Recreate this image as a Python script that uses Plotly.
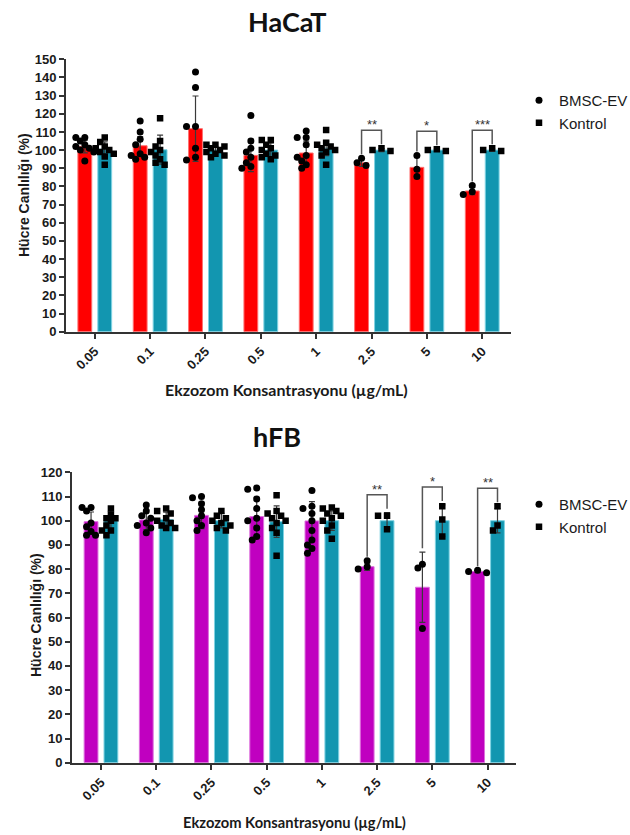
import numpy as np
import plotly.graph_objects as go

W, H = 630, 835

categories = ["0.05", "0.1", "0.25", "0.5", "1", "2.5", "5", "10"]
series_names = ["BMSC-EV", "Kontrol"]

# ---------------- HaCaT ----------------
hacat_ev_mean = [102.0, 102.4, 111.8, 97.1, 98.4, 93.0, 90.5, 77.5]
hacat_ev_sd = [3.5, 5.0, 18.0, 9.0, 6.5, 2.0, 6.0, 2.0]
hacat_ctrl_mean = [100.5, 100.2, 100.0, 100.0, 101.0, 100.0, 100.0, 100.0]
hacat_ctrl_sd = [4.0, 8.0, 2.0, 4.0, 4.0, 0.8, 0.5, 0.7]
hacat_ev_points = [
    [107, 107, 105, 103, 102, 101, 100, 99, 94],
    [116, 110, 106, 103, 98, 97, 96, 95],
    [143, 134.5, 113, 113, 101, 96, 94.5],
    [119, 105, 101, 99, 96, 93, 91, 90],
    [110.5, 107, 107, 103, 97, 96, 94, 92, 90],
    [95.5, 93, 91.5],
    [97, 89.5, 85.5],
    [80.5, 77, 75.5],
]
hacat_ctrl_points = [
    [107, 104.5, 102, 101, 100, 99, 98, 96.5, 92],
    [117.5, 105, 102, 100, 99, 97, 95, 93, 92],
    [103, 103, 102, 101, 100, 99, 98, 97, 96],
    [105.5, 105.5, 103, 101, 100, 98, 97, 96, 95],
    [111, 104, 103, 102, 101, 100, 99, 97, 92],
    [101, 100, 99.5],
    [100.5, 100, 99.5],
    [101, 100, 99.5],
]
hacat_sig = ["", "", "", "", "", "**", "*", "***"]

# ---------------- hFB ----------------
hfb_ev_mean = [99.6, 100.3, 102.2, 101.7, 99.9, 81.0, 72.5, 79.0]
hfb_ev_sd = [4.0, 4.0, 5.5, 8.0, 8.0, 1.5, 14.5, 0.5]
hfb_ctrl_mean = [100.0, 100.5, 100.0, 99.6, 100.0, 100.0, 100.0, 100.0]
hfb_ctrl_sd = [4.0, 3.0, 3.0, 6.5, 4.0, 3.3, 6.5, 5.0]
hfb_ev_points = [
    [105.5, 105.5, 104, 99, 97.5, 95.5, 94, 94],
    [106.5, 104, 102, 101, 99, 98, 97, 95],
    [110, 109.5, 107, 104.5, 102, 100, 98, 96],
    [113.5, 113, 109, 105, 101, 100, 97, 93.5, 92],
    [112.5, 106, 105, 103, 100, 96, 92, 90, 88.5, 86.5],
    [83.5, 81, 80],
    [82, 80.5, 55.5],
    [79.5, 79, 78.5],
]
hfb_ctrl_points = [
    [105, 102.5, 101, 101, 100, 98, 96, 96, 94],
    [105, 104, 103, 101, 100, 99, 98, 97, 97],
    [104, 102, 101, 100, 99, 98, 97, 96],
    [110.5, 104, 103, 102, 101, 100, 99, 97, 95, 85.5],
    [105.5, 105, 104, 103, 102, 101, 100, 98, 96, 92.5],
    [102, 102, 96.5],
    [106, 100.5, 93.5],
    [106, 98, 96],
]
hfb_sig = ["", "", "", "", "", "**", "*", "**"]

# ---------------- style ----------------
RED = "#FF0000"
MAGENTA = "#C000C0"
TEAL = "#1296B0"
AXIS = "#333333"
TXT = "#1a1a1a"
TICKFONT = dict(family="Arial, Liberation Sans, sans-serif", size=13, color=TXT, weight="bold")
BAR_W = 0.25
BAR_C = 0.18  # half-distance between bar centres of a group

panels = [
    dict(name="HaCaT", ev_mean=hacat_ev_mean, ev_sd=hacat_ev_sd, ctrl_mean=hacat_ctrl_mean,
         ctrl_sd=hacat_ctrl_sd, ev_pts=hacat_ev_points, ctrl_pts=hacat_ctrl_points, sig=hacat_sig,
         ev_color=RED, ev_line="#ff7070", ymax=150,
         px_x=(66, 511), px_y=(331.7, 59.3), xr=(-0.52, 7.52),
         title_xy=(287, 21), ytitle_xy=(24, 195), xtitle_xy=(286, 389), xtitle_size=16,
         legend_xy=(519, 84), xa="x", ya="y", legend="legend"),
    dict(name="hFB", ev_mean=hfb_ev_mean, ev_sd=hfb_ev_sd, ctrl_mean=hfb_ctrl_mean,
         ctrl_sd=hfb_ctrl_sd, ev_pts=hfb_ev_points, ctrl_pts=hfb_ctrl_points, sig=hfb_sig,
         ev_color=MAGENTA, ev_line="#dd70dd", ymax=120,
         px_x=(72, 516), px_y=(762.7, 472.3), xr=(-0.525, 7.515),
         title_xy=(277, 437), ytitle_xy=(36, 615), xtitle_xy=(294, 822), xtitle_size=14.7,
         legend_xy=(519, 488), xa="x2", ya="y2", legend="legend2"),
]


def swarm(vals, px_per_unit, diam=5.5, step=4.5):
    order = np.argsort(-np.asarray(vals, dtype=float), kind="stable")
    placed = []
    offs = [0.0] * len(vals)
    for i in order:
        y = vals[i] * px_per_unit
        best, best_d = 0.0, -1.0
        for c in [0, -1, 1, -2, 2]:
            xo = c * step
            d = min([np.hypot(xo - px, y - py) for py, px in placed], default=1e9)
            if d >= diam:
                best = xo
                break
            if d > best_d:
                best, best_d = xo, d
        placed.append((y, best))
        offs[i] = best
    return offs


fig = go.Figure()
shapes, annotations = [], []
layout_axes = {}

for p in panels:
    (x0, x1), (y0, y1) = p["px_x"], p["px_y"]
    xdom = [x0 / W, x1 / W]
    ydom = [1 - y0 / H, 1 - y1 / H]
    px_per_unit_y = (y0 - y1) / p["ymax"]
    px_per_unit_x = (x1 - x0) / (p["xr"][1] - p["xr"][0])
    xa, ya = p["xa"], p["ya"]
    idx = np.arange(len(categories))

    # bars with mean +/- SD
    for mean, sd, col, lcol, sign in [
        (p["ev_mean"], p["ev_sd"], p["ev_color"], p["ev_line"], -1),
        (p["ctrl_mean"], p["ctrl_sd"], TEAL, "#7fd3e3", 1),
    ]:
        fig.add_trace(go.Bar(
            x=idx, y=mean, width=BAR_W, offset=sign * BAR_C - BAR_W / 2,
            marker=dict(color=col, line=dict(color=lcol, width=1)),
            error_y=dict(type="data", array=sd, visible=True, color="#3a3a3a", thickness=1.2, width=3),
            xaxis=xa, yaxis=ya, showlegend=False, hoverinfo="skip",
        ))

    # individual points
    for k, (pts, sym, sign) in enumerate([(p["ev_pts"], "circle", -1), (p["ctrl_pts"], "square", 1)]):
        xs, ys = [], []
        for i, vals in enumerate(pts):
            offs = swarm(vals, px_per_unit_y)
            xs += [i + sign * BAR_C + o / px_per_unit_x for o in offs]
            ys += list(vals)
        fig.add_trace(go.Scatter(
            x=xs, y=ys, mode="markers", name=series_names[k],
            marker=dict(symbol=sym, size=7 if sym == "circle" else 6.5, color="black"),
            xaxis=xa, yaxis=ya, legend=p["legend"], showlegend=True, hoverinfo="skip",
        ))

    # significance brackets
    gap_leg = 4 / px_per_unit_y
    gap_top = 18 / px_per_unit_y
    for i, s in enumerate(p["sig"]):
        if not s:
            continue
        lmax = max(max(p["ev_pts"][i]), p["ev_mean"][i] + p["ev_sd"][i])
        rmax = max(max(p["ctrl_pts"][i]), p["ctrl_mean"][i] + p["ctrl_sd"][i])
        top = max(lmax, rmax) + gap_top
        xl, xr_ = i - BAR_C, i + BAR_C
        shapes.append(dict(
            type="path", xref=xa, yref=ya,
            path=f"M {xl},{lmax + gap_leg} L {xl},{top} L {xr_},{top} L {xr_},{rmax + gap_leg}",
            line=dict(color="#555555", width=1.5),
        ))
        annotations.append(dict(
            x=i, y=top, xref=xa, yref=ya, text=s, showarrow=False, xanchor="center",
            yanchor="bottom", yshift=-4,
            font=dict(family="Arial, Liberation Sans", size=13, color="#333333"),
        ))

    axname = "xaxis" if xa == "x" else "xaxis2"
    ayname = "yaxis" if ya == "y" else "yaxis2"
    layout_axes[axname] = dict(
        domain=xdom, range=list(p["xr"]), anchor=ya, tickmode="array",
        tickvals=list(idx), ticktext=categories, tickangle=-45,
        ticks="outside", ticklen=5, tickwidth=2, tickcolor=AXIS,
        showline=True, linewidth=2, linecolor=AXIS, showgrid=False, zeroline=False,
        tickfont=TICKFONT, fixedrange=True, automargin=False,
    )
    layout_axes[ayname] = dict(
        domain=ydom, range=[0, p["ymax"]], anchor=xa, dtick=10, tick0=0,
        ticks="outside", ticklen=5, tickwidth=2, tickcolor=AXIS,
        showline=True, linewidth=2, linecolor=AXIS, showgrid=False, zeroline=False,
        tickfont=TICKFONT, fixedrange=True, automargin=False,
    )

    # titles
    tx, ty = p["title_xy"]
    annotations.append(dict(
        x=tx / W, y=1 - ty / H, xref="paper", yref="paper", text=p["name"], showarrow=False,
        xanchor="center", yanchor="middle",
        font=dict(family="Lato, Open Sans, sans-serif", size=27, color="#111111", weight="bold"),
    ))
    yx, yy = p["ytitle_xy"]
    annotations.append(dict(
        x=yx / W, y=1 - yy / H, xref="paper", yref="paper", text="Hücre Canlılığı (%)",
        showarrow=False, textangle=-90, xanchor="center", yanchor="middle",
        font=dict(family="Arial, Liberation Sans", size=14, color=TXT, weight="bold"),
    ))
    xx, xy = p["xtitle_xy"]
    annotations.append(dict(
        x=xx / W, y=1 - xy / H, xref="paper", yref="paper", text="Ekzozom Konsantrasyonu (µg/mL)",
        showarrow=False, xanchor="center", yanchor="middle",
        font=dict(family="Lato, Open Sans, sans-serif", size=p["xtitle_size"], color=TXT, weight="bold"),
    ))

    lx, ly = p["legend_xy"]
    layout_axes[p["legend"]] = dict(
        x=lx / W, y=1 - ly / H, xanchor="left", yanchor="top",
        font=dict(family="Arial, Liberation Sans", size=15, color=TXT),
        bgcolor="rgba(0,0,0,0)", borderwidth=0, tracegroupgap=0, itemsizing="trace",
    )

fig.update_layout(
    width=W, height=H, margin=dict(l=0, r=0, t=0, b=0, pad=0, autoexpand=False),
    paper_bgcolor="white", plot_bgcolor="white", barmode="overlay",
    shapes=shapes, annotations=annotations, **layout_axes,
)

# remove the page's default 8px body margin so the figure sits at the window origin
fig.write_html(
    "out.html",
    config={"displayModeBar": False},
    post_script="document.body.style.margin='0';document.body.style.overflow='hidden';",
)
